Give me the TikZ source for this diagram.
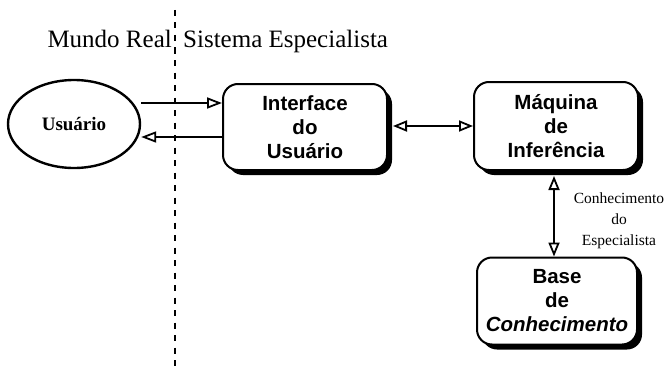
\documentclass[tikz,border=0pt]{standalone}
\usepackage{fontspec}
\setmainfont{Liberation Serif}
\setsansfont{Liberation Sans}
\usetikzlibrary{arrows.meta,shadows,shapes.geometric}
\begin{document}
\begin{tikzpicture}[x=1pt,y=-1pt,
  box/.style={draw=black, line width=2pt, fill=white, rounded corners=15pt,
    align=center, font=\sffamily\bfseries\fontsize{20.5}{24}\selectfont,
    drop shadow={shadow xshift=5pt, shadow yshift=-5pt, fill=black, opacity=1}},
  arr/.style={line width=2.2pt, -{Triangle[open,length=15pt,width=11pt,line width=1.8pt]}},
  darr/.style={line width=2.2pt, {Triangle[open,length=14pt,width=11pt,line width=1.8pt]}-{Triangle[open,length=14pt,width=11pt,line width=1.8pt]}},
  lbl/.style={font=\fontsize{25}{28}\selectfont, inner sep=0pt, anchor=base}
]
\useasboundingbox (0,0) rectangle (668,369);

% dashed divider
\coordinate (dtop) at (175,10);
\coordinate (dbot) at (175,369);
\draw[line width=2pt, dash pattern=on 6pt off 6.5pt] (dtop) -- (dbot);

% titles
\node[lbl, anchor=base east] (mr) at (172,48) {Mundo Real};
\node[lbl, anchor=base west] (se) at (183,48) {Sistema Especialista};

% user ellipse
\node[draw, ellipse, line width=2.4pt, minimum width=132pt, minimum height=88pt,
  font=\bfseries\fontsize{19}{22}\selectfont] (usr) at (74,124) {Usuário};

% boxes
\node[box, minimum width=164pt, minimum height=86pt] (iface) at (305,127)
  {Interface\\do\\Usuário};
\node[box, minimum width=164pt, minimum height=88pt] (maq) at (556,126)
  {Máquina\\de\\Inferência};
\node[box, minimum width=160pt, minimum height=87pt] (base) at (557,301)
  {Base\\de\\\textit{Conhecimento}};

% connectors
\draw[arr] (usr.east |- {0,103}) -- (iface.west |- {0,103});
\draw[arr] (iface.west |- {0,137}) -- (usr.east |- {0,137});
\draw[darr] ([xshift=5pt]iface.east |- {0,126}) -- (maq.west |- {0,126});
\draw[darr] ([yshift=-5pt]maq.south -| {554,0}) -- (base.north -| {554,0});

% side label
\node[align=center, font=\fontsize{15.5}{21}\selectfont] (ce) at (619,221)
  {Conhecimento\\do\\Especialista};
\end{tikzpicture}
\end{document}
